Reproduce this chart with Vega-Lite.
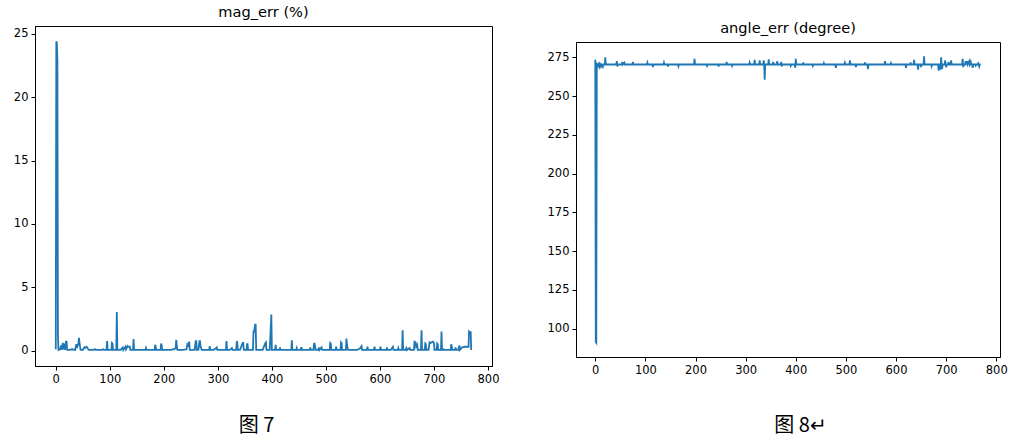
{
  "$schema": "https://vega.github.io/schema/vega-lite/v6.json",
  "padding": {"left": 12, "top": 3, "right": 0, "bottom": 6},
  "autosize": {"type": "pad"},
  "background": "white",
  "spacing": 46,
  "config": {
    "view": {"stroke": "black", "strokeWidth": 1},
    "concat": {"spacing": 0},
    "font": "DejaVu Sans",
    "title": {"font": "DejaVu Sans", "fontSize": 14.6, "fontWeight": "normal", "color": "black", "offset": 6, "anchor": "middle"},
    "axis": {"grid": false, "domainColor": "black", "tickColor": "black", "labelColor": "black", "labelFont": "DejaVu Sans", "labelFontSize": 11.5, "tickSize": 4, "labelPadding": 3, "labelFlush": false, "labelOverlap": false, "titleColor": "black"}
  },
  "datasets": {
    "mag": [
      {"i":0,"v":0.1},{"i":1,"v":24.4},{"i":2,"v":24.3},{"i":3,"v":22.9},{"i":4,"v":1.2},{"i":5,"v":0.05},{"i":8,"v":0.1},{"i":10,"v":0.4},{"i":11,"v":0.05},{"i":13,"v":0.6},{"i":14,"v":0.1},{"i":16,"v":0.55},{"i":17,"v":0.05},{"i":19,"v":0.7},{"i":20,"v":0.7},{"i":21,"v":0.05},{"i":25,"v":0.05},{"i":30,"v":0.1},{"i":36,"v":0.05},{"i":38,"v":0.5},{"i":39,"v":0.2},{"i":42,"v":0.6},{"i":43,"v":1.0},{"i":44,"v":0.6},{"i":45,"v":0.3},{"i":46,"v":0.05},{"i":50,"v":0.05},{"i":53,"v":0.25},{"i":54,"v":0.2},{"i":57,"v":0.3},{"i":58,"v":0.25},{"i":60,"v":0.1},{"i":61,"v":0.05},{"i":68,"v":0.05},{"i":73,"v":0.1},{"i":74,"v":0.05},{"i":85,"v":0.05},{"i":88,"v":0.1},{"i":89,"v":0.05},{"i":94,"v":0.05},{"i":95,"v":0.75},{"i":96,"v":0.05},{"i":103,"v":0.05},{"i":104,"v":0.6},{"i":105,"v":0.55},{"i":106,"v":0.05},{"i":112,"v":0.05},{"i":113,"v":3.05},{"i":114,"v":0.05},{"i":120,"v":0.05},{"i":124,"v":0.25},{"i":125,"v":0.05},{"i":129,"v":0.3},{"i":130,"v":0.1},{"i":133,"v":0.35},{"i":134,"v":0.3},{"i":137,"v":0.3},{"i":138,"v":0.05},{"i":143,"v":0.05},{"i":144,"v":0.9},{"i":145,"v":0.05},{"i":155,"v":0.05},{"i":166,"v":0.05},{"i":167,"v":0.2},{"i":168,"v":0.05},{"i":175,"v":0.05},{"i":183,"v":0.05},{"i":184,"v":0.45},{"i":185,"v":0.3},{"i":186,"v":0.05},{"i":194,"v":0.05},{"i":195,"v":0.55},{"i":196,"v":0.4},{"i":197,"v":0.05},{"i":208,"v":0.05},{"i":214,"v":0.05},{"i":215,"v":0.1},{"i":219,"v":0.1},{"i":222,"v":0.2},{"i":223,"v":0.85},{"i":224,"v":0.4},{"i":225,"v":0.05},{"i":236,"v":0.05},{"i":242,"v":0.1},{"i":244,"v":0.6},{"i":245,"v":0.3},{"i":247,"v":0.7},{"i":248,"v":0.05},{"i":257,"v":0.05},{"i":259,"v":0.75},{"i":260,"v":0.75},{"i":261,"v":0.05},{"i":264,"v":0.05},{"i":266,"v":0.75},{"i":267,"v":0.75},{"i":268,"v":0.3},{"i":269,"v":0.25},{"i":270,"v":0.05},{"i":278,"v":0.05},{"i":284,"v":0.05},{"i":285,"v":0.35},{"i":286,"v":0.05},{"i":292,"v":0.05},{"i":297,"v":0.2},{"i":298,"v":0.25},{"i":299,"v":0.05},{"i":307,"v":0.05},{"i":315,"v":0.05},{"i":316,"v":0.75},{"i":317,"v":0.05},{"i":322,"v":0.05},{"i":326,"v":0.2},{"i":327,"v":0.05},{"i":334,"v":0.05},{"i":335,"v":0.75},{"i":336,"v":0.6},{"i":337,"v":0.05},{"i":341,"v":0.05},{"i":346,"v":0.6},{"i":347,"v":0.6},{"i":348,"v":0.05},{"i":353,"v":0.05},{"i":354,"v":0.5},{"i":355,"v":0.5},{"i":356,"v":0.05},{"i":362,"v":0.05},{"i":365,"v":0.05},{"i":366,"v":1.5},{"i":367,"v":1.5},{"i":369,"v":2.05},{"i":370,"v":2.05},{"i":371,"v":0.05},{"i":378,"v":0.05},{"i":383,"v":0.05},{"i":388,"v":0.6},{"i":389,"v":0.65},{"i":390,"v":0.05},{"i":396,"v":0.05},{"i":399,"v":2.85},{"i":400,"v":0.05},{"i":406,"v":0.05},{"i":407,"v":0.45},{"i":408,"v":0.05},{"i":414,"v":0.05},{"i":415,"v":0.25},{"i":416,"v":0.05},{"i":425,"v":0.05},{"i":436,"v":0.05},{"i":437,"v":0.8},{"i":438,"v":0.05},{"i":445,"v":0.05},{"i":446,"v":0.2},{"i":447,"v":0.05},{"i":453,"v":0.05},{"i":454,"v":0.2},{"i":455,"v":0.2},{"i":456,"v":0.05},{"i":465,"v":0.05},{"i":470,"v":0.05},{"i":471,"v":0.25},{"i":472,"v":0.05},{"i":477,"v":0.05},{"i":478,"v":0.55},{"i":479,"v":0.55},{"i":480,"v":0.3},{"i":481,"v":0.05},{"i":486,"v":0.05},{"i":487,"v":0.25},{"i":488,"v":0.05},{"i":492,"v":0.25},{"i":493,"v":0.05},{"i":498,"v":0.05},{"i":507,"v":0.05},{"i":508,"v":0.6},{"i":509,"v":0.55},{"i":510,"v":0.05},{"i":518,"v":0.05},{"i":519,"v":0.3},{"i":520,"v":0.05},{"i":527,"v":0.05},{"i":528,"v":0.65},{"i":529,"v":0.6},{"i":530,"v":0.05},{"i":537,"v":0.05},{"i":538,"v":0.95},{"i":539,"v":0.5},{"i":540,"v":0.2},{"i":541,"v":0.05},{"i":550,"v":0.05},{"i":558,"v":0.05},{"i":564,"v":0.2},{"i":566,"v":0.35},{"i":567,"v":0.05},{"i":576,"v":0.05},{"i":577,"v":0.3},{"i":578,"v":0.05},{"i":589,"v":0.05},{"i":590,"v":0.3},{"i":591,"v":0.05},{"i":600,"v":0.05},{"i":601,"v":0.3},{"i":602,"v":0.05},{"i":612,"v":0.05},{"i":613,"v":0.25},{"i":614,"v":0.05},{"i":620,"v":0.05},{"i":624,"v":0.3},{"i":625,"v":0.05},{"i":633,"v":0.05},{"i":634,"v":0.2},{"i":635,"v":0.05},{"i":641,"v":0.05},{"i":642,"v":1.6},{"i":643,"v":0.05},{"i":647,"v":0.05},{"i":649,"v":0.2},{"i":650,"v":0.05},{"i":655,"v":0.2},{"i":656,"v":0.05},{"i":663,"v":0.05},{"i":664,"v":0.7},{"i":666,"v":0.65},{"i":667,"v":0.3},{"i":669,"v":0.45},{"i":670,"v":0.05},{"i":676,"v":0.05},{"i":677,"v":1.6},{"i":678,"v":0.05},{"i":683,"v":0.05},{"i":684,"v":0.55},{"i":685,"v":0.5},{"i":686,"v":0.05},{"i":690,"v":0.05},{"i":692,"v":0.65},{"i":694,"v":0.6},{"i":696,"v":0.65},{"i":698,"v":0.7},{"i":700,"v":0.6},{"i":701,"v":0.05},{"i":705,"v":0.05},{"i":706,"v":0.55},{"i":707,"v":0.5},{"i":708,"v":0.05},{"i":713,"v":0.05},{"i":714,"v":1.5},{"i":715,"v":0.05},{"i":718,"v":0.1},{"i":719,"v":0.05},{"i":725,"v":0.05},{"i":731,"v":0.05},{"i":732,"v":0.5},{"i":733,"v":0.3},{"i":734,"v":0.05},{"i":739,"v":0.05},{"i":740,"v":0.25},{"i":741,"v":0.05},{"i":745,"v":0.05},{"i":747,"v":0.4},{"i":748,"v":0.05},{"i":752,"v":0.25},{"i":758,"v":0.3},{"i":762,"v":0.3},{"i":764,"v":0.3},{"i":765,"v":1.5},{"i":766,"v":1.45},{"i":768,"v":1.45},{"i":769,"v":0.05}
    ],
    "angle": [
      {"i":0,"v":273.3},{"i":1,"v":91.5},{"i":2,"v":91.0},{"i":3,"v":270.5},{"i":5,"v":269.5},{"i":6,"v":270.5},{"i":8,"v":268.8},{"i":9,"v":270.5},{"i":11,"v":269.0},{"i":12,"v":270.3},{"i":15,"v":268.8},{"i":16,"v":270.3},{"i":19,"v":270.3},{"i":20,"v":275.0},{"i":21,"v":270.3},{"i":30,"v":270.3},{"i":35,"v":270.3},{"i":42,"v":270.3},{"i":43,"v":272.5},{"i":44,"v":269.0},{"i":45,"v":270.3},{"i":50,"v":270.3},{"i":53,"v":270.3},{"i":54,"v":272.0},{"i":55,"v":270.3},{"i":58,"v":271.5},{"i":59,"v":270.3},{"i":70,"v":270.3},{"i":74,"v":270.3},{"i":75,"v":272.0},{"i":76,"v":270.3},{"i":90,"v":270.3},{"i":103,"v":270.3},{"i":104,"v":271.5},{"i":105,"v":270.3},{"i":114,"v":270.3},{"i":115,"v":268.6},{"i":116,"v":270.3},{"i":126,"v":270.3},{"i":136,"v":270.3},{"i":137,"v":271.5},{"i":138,"v":270.3},{"i":144,"v":270.3},{"i":145,"v":269.0},{"i":146,"v":270.3},{"i":157,"v":270.3},{"i":165,"v":270.3},{"i":166,"v":269.2},{"i":167,"v":270.3},{"i":180,"v":270.3},{"i":197,"v":270.3},{"i":198,"v":274.0},{"i":199,"v":270.3},{"i":210,"v":270.3},{"i":222,"v":270.3},{"i":223,"v":269.4},{"i":224,"v":270.3},{"i":233,"v":270.3},{"i":245,"v":270.3},{"i":246,"v":269.0},{"i":247,"v":270.3},{"i":255,"v":270.3},{"i":261,"v":270.3},{"i":262,"v":272.0},{"i":263,"v":270.3},{"i":272,"v":270.3},{"i":273,"v":269.4},{"i":274,"v":270.3},{"i":290,"v":270.3},{"i":307,"v":270.3},{"i":308,"v":271.5},{"i":309,"v":270.3},{"i":317,"v":270.3},{"i":318,"v":273.3},{"i":319,"v":270.3},{"i":327,"v":270.3},{"i":328,"v":272.9},{"i":329,"v":270.3},{"i":335,"v":270.3},{"i":336,"v":273.0},{"i":337,"v":270.3},{"i":338,"v":260.5},{"i":339,"v":270.3},{"i":345,"v":270.3},{"i":346,"v":273.7},{"i":347,"v":270.3},{"i":354,"v":270.3},{"i":355,"v":272.0},{"i":356,"v":270.3},{"i":362,"v":270.3},{"i":363,"v":272.4},{"i":364,"v":270.3},{"i":370,"v":270.3},{"i":371,"v":272.0},{"i":372,"v":269.0},{"i":373,"v":270.3},{"i":380,"v":270.3},{"i":389,"v":270.3},{"i":390,"v":269.4},{"i":391,"v":270.3},{"i":398,"v":270.3},{"i":399,"v":268.2},{"i":400,"v":274.0},{"i":401,"v":270.3},{"i":414,"v":270.3},{"i":415,"v":271.6},{"i":416,"v":270.3},{"i":425,"v":270.3},{"i":433,"v":270.3},{"i":434,"v":269.4},{"i":435,"v":270.3},{"i":445,"v":270.3},{"i":455,"v":270.3},{"i":456,"v":271.2},{"i":457,"v":270.3},{"i":470,"v":270.3},{"i":479,"v":270.3},{"i":480,"v":268.2},{"i":481,"v":270.3},{"i":490,"v":270.3},{"i":497,"v":270.3},{"i":498,"v":271.5},{"i":499,"v":270.3},{"i":507,"v":270.3},{"i":508,"v":272.9},{"i":509,"v":271.0},{"i":510,"v":270.3},{"i":519,"v":270.3},{"i":520,"v":268.6},{"i":521,"v":270.3},{"i":530,"v":270.3},{"i":537,"v":270.3},{"i":538,"v":271.6},{"i":539,"v":270.3},{"i":543,"v":270.3},{"i":544,"v":267.3},{"i":545,"v":270.3},{"i":560,"v":270.3},{"i":577,"v":270.3},{"i":578,"v":272.4},{"i":579,"v":270.3},{"i":589,"v":270.3},{"i":590,"v":271.2},{"i":591,"v":270.3},{"i":600,"v":270.3},{"i":610,"v":270.3},{"i":619,"v":270.3},{"i":620,"v":268.2},{"i":621,"v":270.3},{"i":628,"v":270.3},{"i":629,"v":271.6},{"i":630,"v":270.3},{"i":635,"v":270.3},{"i":636,"v":273.3},{"i":637,"v":270.3},{"i":643,"v":270.3},{"i":644,"v":266.9},{"i":645,"v":270.3},{"i":649,"v":270.3},{"i":650,"v":268.6},{"i":651,"v":270.3},{"i":655,"v":270.3},{"i":656,"v":275.6},{"i":657,"v":270.3},{"i":665,"v":270.3},{"i":670,"v":270.3},{"i":671,"v":269.2},{"i":672,"v":270.3},{"i":680,"v":270.3},{"i":684,"v":270.3},{"i":685,"v":266.4},{"i":686,"v":270.3},{"i":688,"v":270.3},{"i":689,"v":266.9},{"i":690,"v":275.0},{"i":691,"v":270.3},{"i":692,"v":267.5},{"i":693,"v":270.3},{"i":697,"v":270.3},{"i":698,"v":272.9},{"i":699,"v":270.3},{"i":700,"v":268.5},{"i":701,"v":270.3},{"i":704,"v":270.3},{"i":705,"v":272.0},{"i":706,"v":270.3},{"i":709,"v":270.3},{"i":710,"v":272.9},{"i":711,"v":270.3},{"i":720,"v":270.3},{"i":732,"v":270.3},{"i":733,"v":274.0},{"i":734,"v":268.6},{"i":735,"v":270.3},{"i":738,"v":270.3},{"i":739,"v":272.4},{"i":740,"v":270.3},{"i":742,"v":272.4},{"i":743,"v":270.3},{"i":746,"v":272.4},{"i":747,"v":270.3},{"i":749,"v":272.0},{"i":750,"v":270.3},{"i":752,"v":270.3},{"i":753,"v":268.2},{"i":754,"v":270.3},{"i":758,"v":270.3},{"i":759,"v":269.6},{"i":760,"v":270.3},{"i":763,"v":270.3},{"i":764,"v":271.0},{"i":766,"v":269.0},{"i":767,"v":270.3},{"i":769,"v":270.5}
    ]
  },
  "hconcat": [
    {
      "spacing": 0,
      "vconcat": [
        {
          "width": 457,
          "height": 1,
          "view": {"stroke": null},
          "data": {"values": []},
          "mark": {"type": "text"},
          "encoding": {}
        },
        {
          "width": 457,
          "height": 340,
          "title": {"text": "mag_err (%)"},
          "data": {"name": "mag"},
          "mark": {"type": "line", "color": "#1f77b4", "strokeWidth": 1.8, "clip": true},
          "encoding": {
            "x": {"field": "i", "type": "quantitative", "scale": {"domain": [-38.45, 807.45], "nice": false, "zero": false},
                  "axis": {"values": [0, 100, 200, 300, 400, 500, 600, 700, 800], "title": "图 7", "titleFont": "Noto Sans CJK SC", "titleFontSize": 20, "titleFontWeight": "normal", "titlePadding": 31, "titleX": 221, "titleAlign": "center"}},
            "y": {"field": "v", "type": "quantitative", "scale": {"domain": [-1.22, 25.62], "nice": false, "zero": false},
                  "axis": {"values": [0, 5, 10, 15, 20, 25], "title": null}}
          }
        }
      ]
    },
    {
      "spacing": 0,
      "vconcat": [
        {
          "width": 424,
          "height": 17,
          "view": {"stroke": null},
          "data": {"values": []},
          "mark": {"type": "text"},
          "encoding": {}
        },
        {
          "width": 424,
          "height": 315,
          "title": {"text": "angle_err (degree)", "offset": 6},
          "data": {"name": "angle"},
          "mark": {"type": "line", "color": "#1f77b4", "strokeWidth": 1.8, "clip": true},
          "encoding": {
            "x": {"field": "i", "type": "quantitative", "scale": {"domain": [-38.45, 807.45], "nice": false, "zero": false},
                  "axis": {"values": [0, 100, 200, 300, 400, 500, 600, 700, 800], "title": "图 8↵", "titleFont": "Noto Sans CJK SC", "titleFontSize": 20, "titleFontWeight": "normal", "titlePadding": 40, "titleX": 224, "titleAlign": "center"}},
            "y": {"field": "v", "type": "quantitative", "scale": {"domain": [81.8, 284.8], "nice": false, "zero": false},
                  "axis": {"values": [100, 125, 150, 175, 200, 225, 250, 275], "title": null}}
          }
        }
      ]
    }
  ]
}
